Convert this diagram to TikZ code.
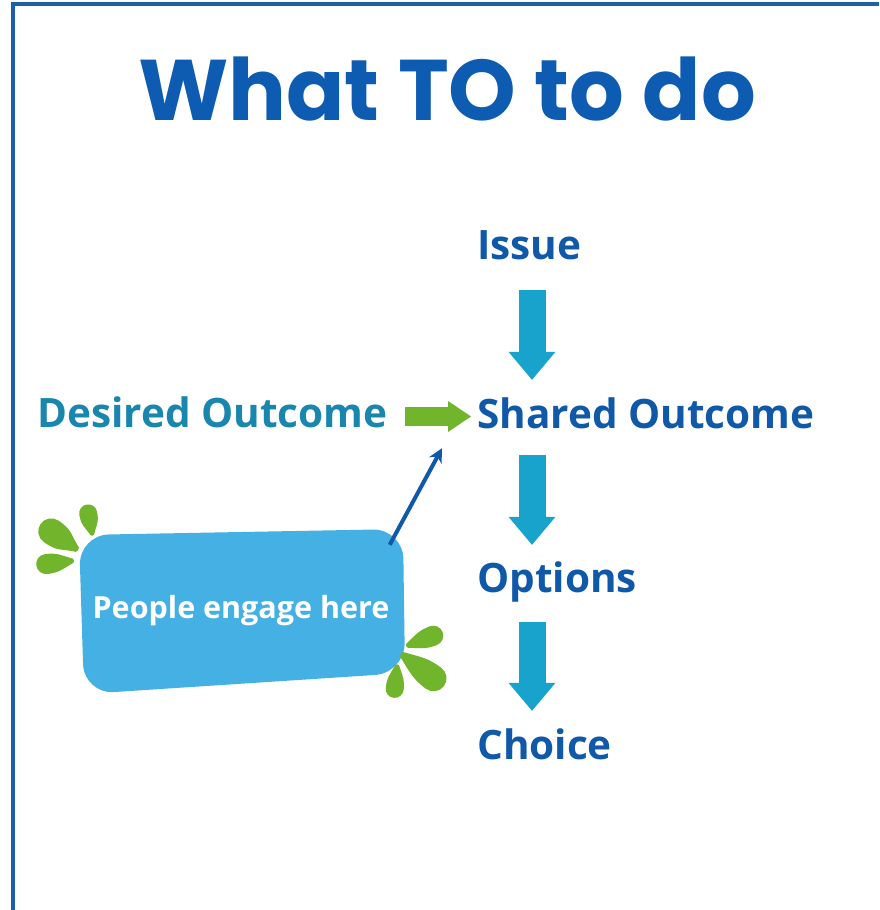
\documentclass[tikz,border=0pt]{standalone}
\usepackage{fontspec}
\setmainfont{Open Sans}
\newfontfamily\titlefont{Poppins}
\usepackage{tikz}
\usetikzlibrary{arrows.meta, calc, positioning}
\definecolor{frameblue}{rgb}{0.12,0.37,0.66}
\definecolor{titleblue}{rgb}{0.05,0.36,0.70}
\definecolor{stepblue}{rgb}{0.06,0.35,0.66}
\definecolor{outcometeal}{rgb}{0.10,0.53,0.68}
\definecolor{flowcyan}{rgb}{0.09,0.64,0.80}
\definecolor{splashgreen}{rgb}{0.44,0.71,0.17}
\definecolor{blobblue}{rgb}{0.27,0.69,0.89}

% teardrop: x, y, angle, length, half width
\newcommand{\splash}[5]{%
	\fill[splashgreen,shift={(#1,#2)},rotate=#3]
	(0,0.3*#5) .. controls (0.3*#4,0.75*#5) and (#4-2.2*#5,#5) .. (#4-#5,#5)
	arc[start angle=90,end angle=-90,radius=#5]
	.. controls (#4-2.2*#5,-#5) and (0.3*#4,-0.75*#5) .. (0,-0.3*#5)
	arc[start angle=-90,end angle=-270,radius=0.3*#5] -- cycle;}

\begin{document}
\begin{tikzpicture}[x=1pt,y=-1pt,
		lbl/.style={font=\bfseries\fontsize{40.5}{40.5}\selectfont,inner sep=0pt,text height=29pt,text depth=8pt,anchor=base west},
		downarrow/.style={flowcyan,line width=27pt,-{Triangle[width=47pt,length=28pt,line width=0pt]}},
		rightarrow/.style={splashgreen,line width=19pt,-{Triangle[width=31pt,length=23pt,line width=0pt]}},
		pointer/.style={stepblue,line width=4pt,-{Stealth[length=14pt,width=14pt]}}]
		\useasboundingbox (0,0) rectangle (879,910);
		\fill[white] (0,0) rectangle (879,910);
		\draw[frameblue,line width=4pt] (13,910) -- (13,4) -- (879,4);
		
		\node(title) [titleblue,anchor=base,inner sep=0pt,font=\titlefont\bfseries\fontsize{86}{86}\selectfont] at (447,120) {What TO to do};
		
		%----------------------------------------------------------------
		\node(issue) [lbl,stepblue] at (477,259) {Issue};
		\node(shared) [lbl,stepblue] at (477,428) {Shared Outcome};
		\node(options) [lbl,stepblue] at (477,592) {Options};
		\node(choice) [lbl,stepblue] at (477,759) {Choice};
		\node(desired) [lbl,outcometeal] at (37,427) {Desired Outcome};
		
		\coordinate (spine) at (532,0);
		\draw[downarrow,shorten <=23pt,shorten >=19pt] (issue.south -| spine) -- (spine |- shared.north);
		\draw[downarrow,shorten <=19pt,shorten >=18pt] (shared.south -| spine) -- (spine |- options.north);
		\draw[downarrow,shorten <=22pt,shorten >=19pt] (options.south -| spine) -- (spine |- choice.north);
		\draw[rightarrow,shorten <=18pt,shorten >=6pt] (desired.east) -- (desired.east -| shared.west);
		
		%----------------------------------------------------------------
		\fill[blobblue,rounded corners=30pt] (79,535) -- (403,529) -- (405,673) -- (84,694) -- cycle;
		\node(engage) [white,inner sep=0pt,minimum width=325pt,minimum height=158pt,font=\bfseries\fontsize{30.5}{30.5}\selectfont] at (241,611) {People engage here};
		\draw[pointer] ([shift={(-14pt,-13pt)}]engage.north east) -- ([shift={(-35pt,-12pt)}]shared.south west);
		
		\splash{75}{548}{145}{42}{13}
		\splash{92}{533}{101}{29}{9}
		\splash{71}{561}{187}{35}{10}
		\splash{409}{645}{21}{36}{10}
		\splash{404}{656}{-37}{50}{13}
		\splash{397}{667}{-96}{31}{9}
	\end{tikzpicture}
\end{document}
